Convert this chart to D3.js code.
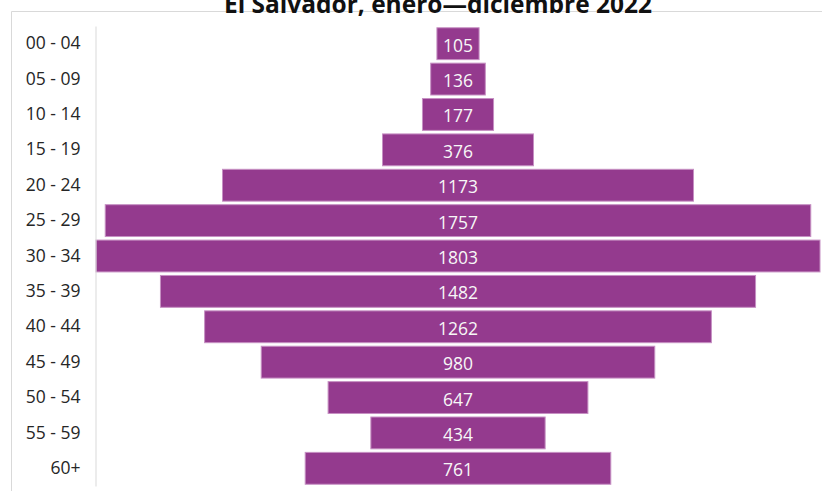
<!DOCTYPE html>
<html>
<head>
<meta charset="utf-8">
<script src="https://cdn.jsdelivr.net/npm/d3@7"></script>
<style>
  body { margin: 0; background: #fff; }
  svg { display: block; }
</style>
</head>
<body>
<svg width="822" height="491"></svg>
<script>
        // age groups and counts, top to bottom
        const ages = ['00 - 04', '05 - 09', '10 - 14', '15 - 19', '20 - 24', '25 - 29', '30 - 34', '35 - 39', '40 - 44', '45 - 49', '50 - 54', '55 - 59', '60+']
        const counts = [105, 136, 177, 376, 1173, 1757, 1803, 1482, 1262, 980, 647, 434, 761]
        const title = 'El Salvador, enero\u2014diciembre 2022'

        const dataset = ages.map((a, i) => ({age: a, count: counts[i]}))

        const barColor = '#943a8e'
        const font = '"Open Sans", Carlito, Calibri, sans-serif'

        const svg = d3.select('svg')

        // chart area border (top + left)
        svg.append('path')
            .attr('d', 'M11.5,491 V11.5 H822')
            .attr('fill', 'none')
            .attr('stroke', '#d9d9d9')

        const maxHalf = d3.max(counts) / 2
        const x = d3.scaleLinear([-maxHalf, maxHalf], [96, 820])
        const y = d3.scaleBand(ages, [26, 486]).paddingInner(0.1).paddingOuter(0.05)

        // bars centred on zero
        svg.selectAll('rect').data(dataset).enter()
            .append('rect')
                .attr('x', d => x(-d.count / 2))
                .attr('y', d => y(d.age))
                .attr('width', d => x(d.count / 2) - x(-d.count / 2))
                .attr('height', y.bandwidth())
                .attr('fill', barColor)
                .attr('stroke', '#c690c3')
                .attr('stroke-width', 1)

        // value labels
        svg.selectAll('.val').data(dataset).enter()
            .append('text')
                .attr('class', 'val')
                .attr('x', x(0))
                .attr('y', d => y(d.age) + y.bandwidth() / 2 + 1)
                .attr('text-anchor', 'middle')
                .attr('dominant-baseline', 'central')
                .attr('font-family', font)
                .attr('font-size', '17.5px')
                .attr('fill', '#f7f7f7')
                .text(d => d.count)

        // category axis
        const yAxis = d3.axisLeft(y).tickSize(0).tickPadding(15)
        svg.append('g')
            .attr('transform', 'translate(95.5, 0)')
            .call(yAxis)
            .call(g => g.select('.domain').attr('stroke', '#d9d9d9'))
            .call(g => g.selectAll('text')
                .attr('font-family', font)
                .attr('font-size', '17.5px')
                .attr('fill', '#262626'))

        // title (partly cut off at top, as in the source)
        svg.append('text')
            .attr('x', 438)
            .attr('y', 13)
            .attr('text-anchor', 'middle')
            .attr('font-family', font)
            .attr('font-weight', 'bold')
            .attr('font-size', '24.5px')
            .attr('fill', '#111')
            .text(title)
</script>
</body>
</html>
